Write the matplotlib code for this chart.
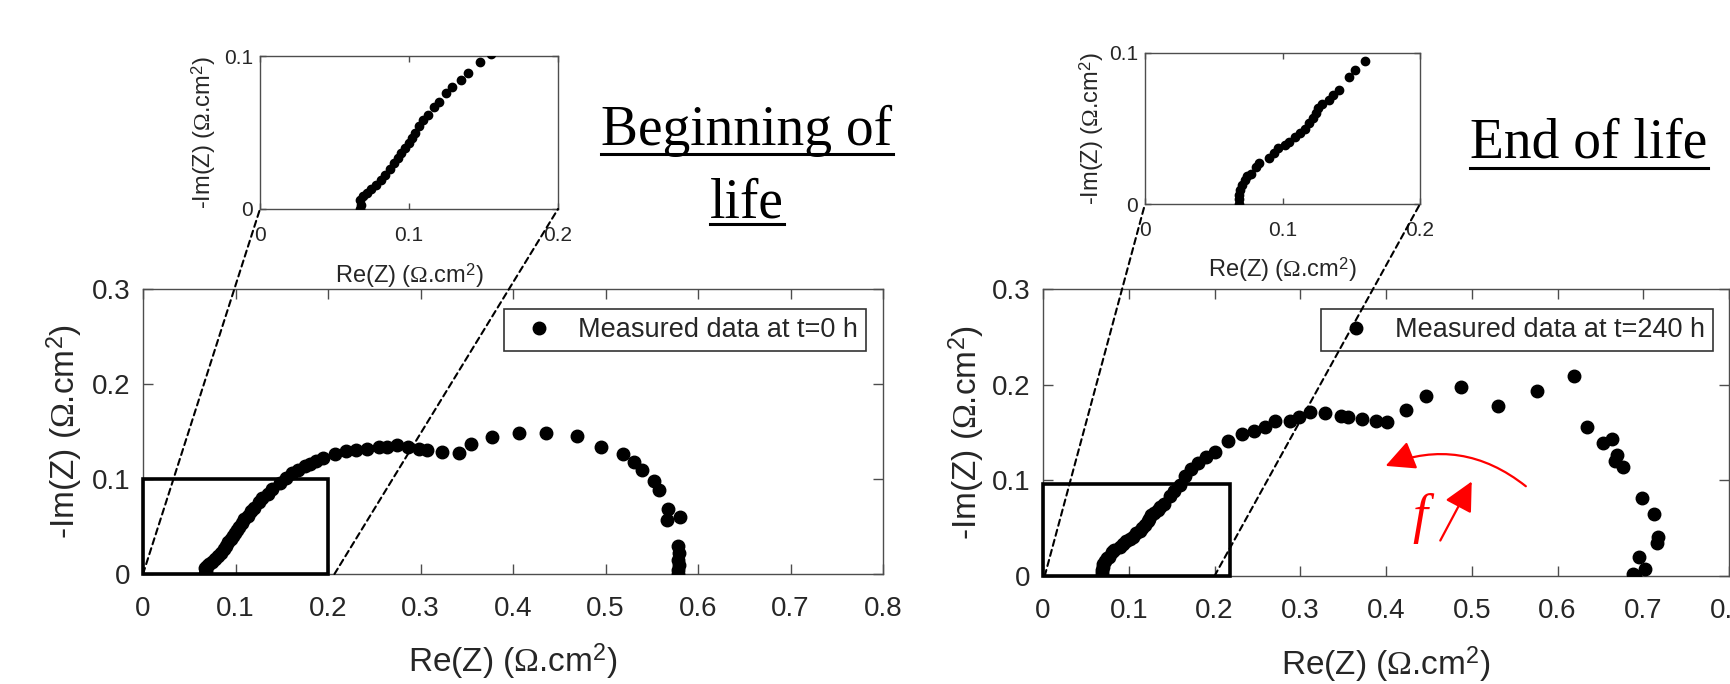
import matplotlib
matplotlib.use("Agg")
import matplotlib.pyplot as plt
from matplotlib.patches import Rectangle, ConnectionPatch, FancyArrowPatch
from matplotlib.lines import Line2D

plt.rcParams['font.family'] = ['Liberation Sans', 'DejaVu Sans']
plt.rcParams['mathtext.fontset'] = 'custom'
plt.rcParams['mathtext.rm'] = 'Liberation Serif'
plt.rcParams['mathtext.sf'] = 'Liberation Sans'
plt.rcParams['mathtext.it'] = 'Liberation Serif:italic'

# ---------------- data ----------------
re_t0 = [0.067, 0.068, 0.067, 0.0694, 0.0718, 0.0744, 0.0777, 0.081, 0.084, 0.0874,
         0.090, 0.0924, 0.0946, 0.097, 0.0998, 0.102, 0.104, 0.107, 0.1096, 0.113,
         0.1168, 0.120, 0.125, 0.129, 0.1347, 0.1396, 0.1478, 0.155, 0.161, 0.168,
         0.175, 0.181, 0.187, 0.195, 0.208, 0.219, 0.230, 0.242, 0.255, 0.264,
         0.275, 0.286, 0.298, 0.307, 0.323, 0.342, 0.355, 0.377, 0.406, 0.436,
         0.469, 0.495, 0.519, 0.531, 0.539, 0.552, 0.558, 0.568, 0.566, 0.581,
         0.578, 0.579, 0.578, 0.579, 0.578, 0.578]
im_t0 = [0.0, 0.0028, 0.006, 0.0083, 0.0104, 0.013, 0.0159, 0.019, 0.0224, 0.026,
         0.030, 0.0333, 0.0365, 0.040, 0.043, 0.0463, 0.050, 0.054, 0.058, 0.0615,
         0.0665, 0.070, 0.0757, 0.0796, 0.0843, 0.089, 0.0959, 0.1015, 0.106, 0.110,
         0.1135, 0.116, 0.119, 0.122, 0.126, 0.129, 0.131, 0.132, 0.1335, 0.134,
         0.136, 0.134, 0.132, 0.131, 0.128, 0.1275, 0.137, 0.144, 0.148, 0.148,
         0.145, 0.1335, 0.126, 0.118, 0.110, 0.098, 0.0886, 0.068, 0.057, 0.060,
         0.029, 0.022, 0.015, 0.0096, 0.004, 0.0]

re_t240 = [0.0684, 0.0684, 0.0687, 0.0694, 0.0703, 0.0726, 0.0742, 0.0774, 0.0806, 0.0832,
           0.0903, 0.0935, 0.0968, 0.1016, 0.105, 0.109, 0.113, 0.116, 0.119, 0.122,
           0.124, 0.126, 0.129, 0.134, 0.1365, 0.141, 0.148, 0.153, 0.160, 0.166,
           0.173, 0.181, 0.190, 0.201, 0.216, 0.2315, 0.2456, 0.259, 0.271, 0.2886,
           0.299, 0.311, 0.3285, 0.347, 0.356, 0.3715, 0.388, 0.4016, 0.4237, 0.4464,
           0.4875, 0.5305, 0.5766, 0.6195, 0.634, 0.653, 0.6635, 0.669, 0.667, 0.676,
           0.699, 0.7125, 0.717, 0.716, 0.695, 0.702, 0.688, 0.690]
im_t240 = [0.0, 0.003, 0.006, 0.0093, 0.0126, 0.016, 0.0188, 0.020, 0.0248, 0.0274,
           0.0307, 0.0336, 0.037, 0.039, 0.041, 0.0447, 0.047, 0.050, 0.0535, 0.057,
           0.060, 0.0635, 0.066, 0.069, 0.0723, 0.0757, 0.084, 0.0885, 0.095, 0.105,
           0.112, 0.118, 0.124, 0.1295, 0.141, 0.1486, 0.152, 0.1556, 0.162, 0.1625,
           0.1667, 0.171, 0.170, 0.167, 0.166, 0.164, 0.162, 0.161, 0.173, 0.1885,
           0.198, 0.178, 0.193, 0.209, 0.156, 0.139, 0.143, 0.1265, 0.120, 0.114,
           0.0815, 0.0648, 0.041, 0.034, 0.020, 0.0073, 0.002, 0.0]

main_xticks = [0, 0.1, 0.2, 0.3, 0.4, 0.5, 0.6, 0.7, 0.8]
main_xticklabels = ['0', '0.1', '0.2', '0.3', '0.4', '0.5', '0.6', '0.7', '0.8']
main_yticks = [0, 0.1, 0.2, 0.3]
main_yticklabels = ['0', '0.1', '0.2', '0.3']
inset_xticks = [0, 0.1, 0.2]
inset_xticklabels = ['0', '0.1', '0.2']
inset_yticks = [0, 0.1]
inset_yticklabels = ['0', '0.1']

legend_t0 = 'Measured data at t=0 h'
legend_t240 = 'Measured data at t=240 h'
xlabel = r'Re(Z) ($\mathrm{\Omega}$.cm$^{\mathsf{2}}$)'
ylabel = r'-Im(Z) ($\mathrm{\Omega}$.cm$^{\mathsf{2}}$)'
zoom_box_t0 = (0.2, 0.1)
zoom_box_t240 = (0.218, 0.0965)

# ---------------- figure ----------------
W, H = 1730, 684
fig = plt.figure(figsize=(W / 100, H / 100), dpi=100)
fig.patch.set_facecolor('white')

def frac(x0, y_bottom, w, h):
    return [x0 / W, 1 - y_bottom / H, w / W, h / H]

ax1 = fig.add_axes(frac(143, 574, 740, 285))
ax2 = fig.add_axes(frac(1043, 576, 686, 287))
in1 = fig.add_axes(frac(260, 209, 298, 153))
in2 = fig.add_axes(frac(1145, 204, 275, 151))

GRAY = '#262626'
SPINE = '#4d4d4d'

def style_axes(ax, xt, xtl, yt, ytl, lsize, xpad, ypad, tlen):
    ax.set_xticks(xt)
    ax.set_xticklabels(xtl)
    ax.set_yticks(yt)
    ax.set_yticklabels(ytl)
    ax.tick_params(axis='both', direction='in', top=True, right=True,
                   length=tlen, width=1.0, labelsize=lsize, color=SPINE,
                   labelcolor=GRAY)
    ax.tick_params(axis='x', pad=xpad)
    ax.tick_params(axis='y', pad=ypad)
    for s in ax.spines.values():
        s.set_color(SPINE)
        s.set_linewidth(1.0)

for ax, xs, ys, lab, box, ylc in [(ax1, re_t0, im_t0, legend_t0, zoom_box_t0, -0.078),
                                  (ax2, re_t240, im_t240, legend_t240, zoom_box_t240, -0.082)]:
    ax.plot(xs, ys, 'o', color='k', ms=9, mec='k', label=lab, zorder=4)
    ax.set_xlim(0, 0.8)
    ax.set_ylim(0, 0.3)
    style_axes(ax, main_xticks, main_xticklabels, main_yticks, main_yticklabels,
               20, 16, 9, 7)
    ax.set_xlabel(xlabel, fontsize=24, color=GRAY)
    ax.set_ylabel(ylabel, fontsize=24, color=GRAY)
    ax.xaxis.set_label_coords(0.5, -0.24)
    ax.yaxis.set_label_coords(ylc, 0.5)
    ax.add_patch(Rectangle((0, 0), box[0], box[1], fill=False, ec='k', lw=2.6,
                           clip_on=False, zorder=5))
    leg = ax.legend(loc='upper right', bbox_to_anchor=(1 - 17 / 740, 1 - 20 / 285),
                    borderaxespad=0, fontsize=19.5, frameon=True, fancybox=False,
                    framealpha=1, edgecolor='#333333', handletextpad=0.45,
                    borderpad=0.3, handlelength=2.0, labelcolor=GRAY)
    leg.get_frame().set_linewidth(1.2)

for ins, xs, ys in [(in1, re_t0, im_t0), (in2, re_t240, im_t240)]:
    ins.plot(xs, ys, 'o', color='k', ms=6, zorder=4)
    ins.set_xlim(0, 0.2)
    ins.set_ylim(0, 0.1)
    style_axes(ins, inset_xticks, inset_xticklabels, inset_yticks, inset_yticklabels,
               15, 12, 5, 4)
    ins.set_xlabel(xlabel, fontsize=17, color=GRAY)
    ins.set_ylabel(ylabel, fontsize=17, color=GRAY)
    ins.xaxis.set_label_coords(0.5, -0.34)
    ins.yaxis.set_label_coords(-0.14, 0.5)

# dashed connectors
for main, ins, pairs in [(ax1, in1, [((0, 0), (0, 0)), ((0.207, 0), (0.2, 0))]),
                         (ax2, in2, [((0.002, 0), (0, 0)), ((0.2, 0), (0.2, 0))])]:
    for a, b in pairs:
        con = ConnectionPatch(xyA=a, coordsA=main.transData, xyB=b, coordsB=ins.transData,
                              color='k', lw=1.5, linestyle=(0, (3, 2)), zorder=6)
        fig.add_artist(con)

# red frequency arrows
arc = FancyArrowPatch((0.5656, 0.092), (0.3965, 0.114), connectionstyle='arc3,rad=0.3',
                      arrowstyle='-|>,head_length=0.9,head_width=0.45', mutation_scale=20,
                      color='red', lw=1.6, zorder=6)
ax2.add_patch(arc)
st = FancyArrowPatch((0.4618, 0.0345), (0.5015, 0.1014),
                     arrowstyle='-|>,head_length=0.9,head_width=0.45', mutation_scale=20,
                     color='red', lw=1.6, zorder=6)
ax2.add_patch(st)
ax2.text(0.4397, 0.060, 'f', color='red', fontsize=39, family='Liberation Serif',
         style='italic', ha='center', va='center')

# titles with underline
titles = [('Beginning of', 747, 145, 9), ('life', 747, 217, 7), ('End of life', 1589, 157, 11)]
tobjs = []
for s, cx, base, off in titles:
    t = fig.text(cx / W, 1 - base / H, s, fontsize=40, family='Liberation Serif',
                 ha='center', va='baseline', color='k')
    tobjs.append((t, base, off))
fig.canvas.draw()
r = fig.canvas.get_renderer()
for t, base, off in tobjs:
    bb = t.get_window_extent(r)
    yy = 1 - (base + off) / H
    fig.add_artist(Line2D([bb.x0 / W, bb.x1 / W], [yy, yy], transform=fig.transFigure,
                          color='k', lw=2.2))

fig.savefig('out.png', dpi=100)
